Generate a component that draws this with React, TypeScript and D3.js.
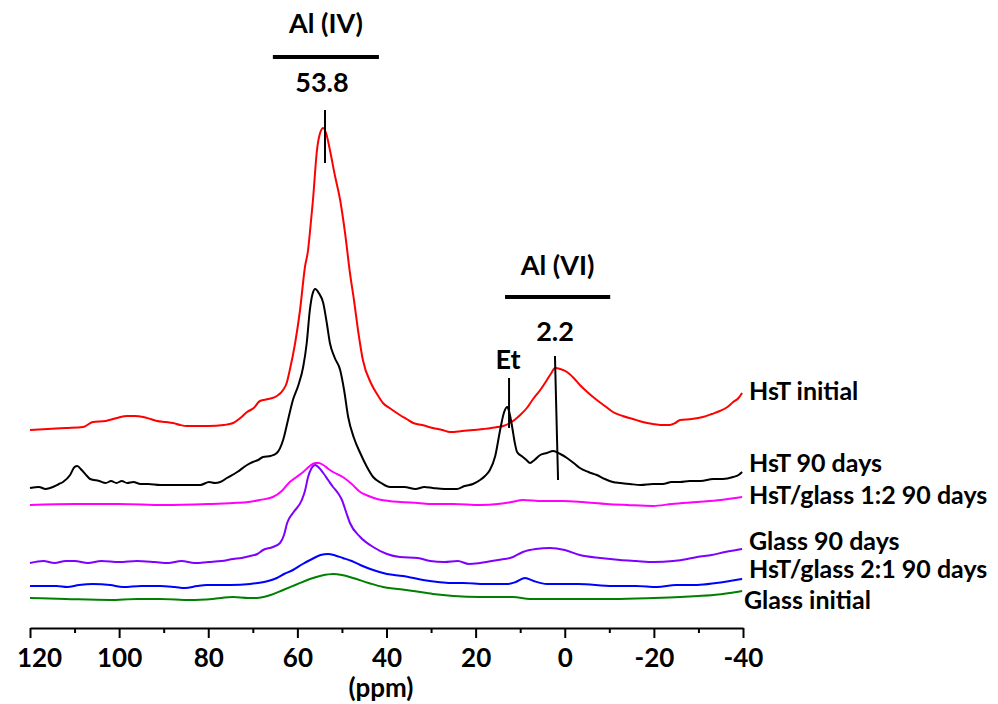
import React, { useEffect, useRef } from "react";
import * as d3 from "d3";

// ---- data (ppm, relative intensity) ----
const hstInitial: [number, number][] = [
  [120, -0.4], [116, -0.2], [112, 0], [108.1, 0.2], [105.9, 1.2], [103, 1.4], [100.5, 2.0], [98.2, 2.4], [96.5, 2.4], [94.6, 2.2], [93, 1.8], [91.5, 1.4],
  [89.5, 1.2], [87.9, 1.0], [86.3, 0.6], [84.8, 0.4], [80, 0.4], [76.5, 0.6], [74.4, 1.0], [72.8, 2.0], [71.3, 3.2], [69.8, 4.0], [68.4, 5.4],
  [66.5, 5.8], [64.6, 6.4], [63.2, 7.6], [62.4, 9.0], [61.7, 11.6], [60.5, 17.0], [59.4, 23.6], [58.3, 32.2], [57.6, 35.6], [57.2, 39.0],
  [56.5, 45.6], [55.6, 55.6], [54.9, 59.0], [54.2, 60.0], [53.5, 58.8], [52.7, 55.6], [51.6, 50.6], [50.4, 45.6], [49.3, 39.0],
  [48.2, 31.0], [47.3, 25.6], [46.3, 19.0], [45.3, 13.6], [43.5, 9.0], [42, 6.6], [40.8, 5.0], [39, 3.8], [37.0, 2.6], [35.5, 1.8],
  [34.0, 1.0], [32, 0.6], [29.6, 0], [27.5, -0.4], [25.7, -0.8], [23, -0.6], [20.5, -0.4], [18.3, -0.2], [16.5, 0], [15.2, 0.2],
  [13.8, 0.4], [12.3, 1.0], [11, 1.8], [10.0, 2.6], [8.5, 4.0], [7.1, 5.8], [5.5, 7.6], [4.0, 9.6], [3.0, 11.0], [2.2, 12.0],
  [1.0, 11.8], [-0.5, 11.2], [-2, 10.0], [-3.4, 8.6], [-5.3, 7.0], [-7.2, 5.6], [-9, 4.4], [-10.8, 3.2], [-13, 2.4], [-15.3, 1.8],
  [-17.5, 1.2], [-19.8, 0.8], [-21.5, 0.6], [-23.6, 0.6], [-24.8, 1.0], [-25.9, 1.6], [-28.5, 1.8], [-31.0, 2.2], [-33, 2.8],
  [-34.8, 3.4], [-36.5, 4.2], [-37.8, 5.2], [-39, 6.0], [-39.8, 7.0],
];
const hst90: [number, number][] = [
  [120, 0], [118, 0.2], [116.5, -0.2], [115.5, 0], [113.5, 0.8], [112.6, 1.2], [111, 2.6], [110, 4.2], [109.4, 4.4], [108.4, 3.6],
  [107.2, 2.4], [106.5, 1.8], [104.5, 1.4], [103, 1.0], [101.8, 1.4], [100.6, 1.0], [99.4, 1.4], [98.2, 1.0], [96.8, 1.2], [95.2, 0.8],
  [93.5, 0.8], [90.8, 0.6], [86, 0.6], [81.8, 0.6], [79.8, 1.2], [78.5, 1.0], [77.3, 1.2], [75.8, 2.0], [73.5, 3.2], [71.3, 4.6],
  [70.0, 5.2], [68.8, 5.6], [67.7, 6.2], [66, 6.4], [64.6, 7.0], [63.2, 9.6], [62.1, 13.6], [61.0, 17.6], [59.8, 20.5], [58.7, 24.2],
  [57.9, 29.0], [57.2, 35.6], [56.6, 38.8], [56.0, 39.8], [55.2, 39.0], [54.2, 37.0], [53.4, 33.0], [52.7, 29.0], [51.6, 26.0],
  [50.4, 23.6], [49.5, 19.5], [48.6, 14.2], [47.3, 10.0], [45.9, 7.0], [44.5, 4.4], [43.0, 2.2], [41.2, 1.0], [39.2, 0.2], [36, 0.2],
  [33.5, -0.2], [31.5, 0.2], [29.6, 0], [27, -0.2], [24.2, -0.2], [22.5, 0.4], [20.6, 0.8], [19.0, 1.6], [17.9, 2.4], [16.8, 3.6],
  [15.6, 6.4], [14.5, 11.6], [13.6, 15.2], [12.9, 16.2], [12.4, 15.0], [11.8, 12.2], [11.2, 9.0], [10.7, 7.2], [9.4, 6.2], [8.6, 5.6],
  [7.8, 5.0], [6.8, 5.6], [5.5, 6.6], [4.0, 7.0], [2.6, 7.4], [1.0, 6.8], [-0.5, 6.0], [-2, 5.0], [-3.4, 4.0], [-5.3, 3.2], [-7.2, 2.6],
  [-9, 1.8], [-10.8, 1.2], [-12.5, 1.0], [-14.6, 0.8], [-17, 0.6], [-19.8, 0.8], [-22, 0.8], [-24, 1.2], [-25.9, 1.2], [-28, 1.4],
  [-30.5, 1.4], [-33.3, 1.8], [-35.5, 1.8], [-37.8, 2.2], [-39.0, 2.6], [-39.8, 3.2],
];
const hstGlass12: [number, number][] = [
  [120, 0], [110, 0.2], [100, 0.2], [90, 0], [80, 0.2], [74.4, 0.4], [71, 0.6], [68.4, 1.0], [65.5, 1.6], [63.5, 2.8], [61.7, 4.6],
  [60.2, 5.6], [58.7, 6.6], [57.2, 7.8], [56.0, 8.4], [55.2, 8.4], [54.2, 8.0], [53, 7.2], [52.0, 6.6], [49.8, 5.6], [47.8, 4.2],
  [45.9, 2.6], [44, 1.8], [42.1, 1.2], [39.5, 0.8], [37.0, 0.6], [33, 0.4], [29.6, 0.2], [25, 0.2], [19.0, 0], [15, 0.2], [12, 0.6],
  [9.4, 1.0], [5, 0.8], [0.4, 0.8], [-4, 0.6], [-9.4, 0.2], [-14, 0], [-19.8, -0.2], [-24, 0.2], [-29.7, 0.6], [-35, 1.0], [-39.8, 1.6],
];
const glass90: [number, number][] = [
  [120, -0.2], [117, 0.2], [114.5, -0.2], [112, 0.2], [110, 0.2], [107, -0.2], [104, 0.2], [100, 0], [96, 0.2], [92, 0], [89, -0.2],
  [86, 0.2], [83, -0.2], [80, 0], [77, 0.2], [74.4, 0.6], [72.5, 0.8], [70.6, 1.2], [69, 1.6], [67.7, 2.4], [65.5, 3.0], [63.9, 3.8],
  [63, 5.4], [62.3, 7.8], [61.0, 9.8], [59.0, 12.4], [58.3, 14.2], [57.6, 17.0], [56.8, 18.8], [56.0, 19.4], [55.2, 18.9], [54.2, 17.8],
  [53.1, 16.4], [52.0, 15.0], [50.9, 13.8], [50.0, 12.4], [49.0, 9.8], [48.2, 7.8], [45.9, 5.0], [43.0, 3.0], [39.9, 1.6], [37.0, 1.0],
  [33, 0.8], [30.2, 0.2], [27, 0], [24, 0.2], [21.5, -0.4], [19.0, -0.2], [15, 0.4], [11.6, 1.0], [9.4, 2.0], [6.5, 2.6], [3.3, 2.8],
  [0, 2.4], [-3.4, 1.4], [-8, 0.8], [-12.4, 0.4], [-16, 0.2], [-20, 0], [-24.3, 0.2], [-27.5, 0.6], [-29.7, 1.0], [-33, 1.4], [-36, 2.0],
  [-38.5, 2.4], [-39.8, 2.6],
];
const hstGlass21: [number, number][] = [
  [120, 0], [114, 0], [111.7, -0.2], [109, 0.2], [105.9, 0.4], [102, 0.2], [99.1, -0.2], [95, 0], [90.8, 0], [87.5, -0.2], [85.2, -0.4],
  [82.5, 0], [80.3, 0.2], [75, 0.2], [70.6, 0.4], [67.5, 0.8], [64.6, 1.6], [63, 2.4], [61.0, 3.2], [58.8, 4.4], [56.7, 5.4],
  [54.8, 6.2], [53.1, 6.4], [51.5, 6.1], [49.8, 5.6], [47.8, 5.0], [45.9, 4.2], [43, 3.2], [39.9, 2.4], [36.3, 2.0], [34, 1.6],
  [31.8, 1.2], [28.5, 0.8], [25.7, 0.6], [22.8, 0.6], [18, 0.4], [12.9, 0.4], [11, 0.8], [8.9, 1.6], [7, 1.0], [4.0, 0.4], [-3, 0.4],
  [-10.8, 0], [-16, 0], [-20.7, -0.2], [-25, 0.2], [-29.7, 0.2], [-34, 0.6], [-37, 1.0], [-39.8, 1.4],
];
const glassInitial: [number, number][] = [
  [120, 0.2], [112, 0], [102, -0.2], [96, 0], [90.8, 0], [84, -0.2], [79, 0], [74.4, 0.4], [71, 0.2], [69.1, 0.2], [66, 0.8],
  [63.2, 1.8], [60.2, 2.9], [57.2, 4.0], [54.5, 4.7], [52.0, 5.0], [50, 4.8], [47.5, 4.2], [44, 3.2], [40.8, 2.4], [37.5, 2.0],
  [34.0, 1.6], [29.6, 1.0], [25, 0.6], [19.0, 0.4], [11.6, 0.4], [7.8, 0], [0, 0], [-10.8, 0], [-20, 0.2], [-25.9, 0.4], [-30, 0.6],
  [-33.3, 0.8], [-37, 1.2], [-39.8, 1.6],
];

const seriesNames = ["HsT initial", "HsT 90 days", "HsT/glass 1:2 90 days", "Glass 90 days", "HsT/glass 2:1 90 days", "Glass initial"];
const seriesData = [hstInitial, hst90, hstGlass12, glass90, hstGlass21, glassInitial];
const seriesOffsets = [40, 28, 24.6, 13.2, 8.4, 5.8];
const seriesColors = ["#ff0000", "#000000", "#ff00ff", "#7f00ff", "#0000ff", "#008000"];
const labelPos: [number, number][] = [[749, 400], [749, 472], [749, 504], [749, 550], [749, 578], [744, 609]];

const xTicksMajor = [120, 100, 80, 60, 40, 20, 0, -20, -40];
const xTicksMinor = [110, 90, 70, 50, 30, 10, -10, -30];

// annotations (ppm)
const alIVRange: [number, number] = [65.5, 41.7];
const alVIRange: [number, number] = [13.4, -10.2];
const peakIV = 53.8;
const peakVI: [number, number] = [2.2, 1.5];
const peakEt = 12.5;

const W = 998;
const H = 704;
const FONT = "Lato, 'Open Sans', sans-serif";

export default function App() {
  const axisRef = useRef<SVGGElement>(null);
  const x = d3.scaleLinear().domain([120, -40]).range([30, 743]);
  const y = d3.scaleLinear().domain([0, 100]).range([628, 128]);

  useEffect(() => {
    if (!axisRef.current) return;
    const g = d3.select(axisRef.current);
    g.selectAll("*").remove();
    const major = d3.axisBottom(x).tickValues(xTicksMajor).tickSize(10).tickSizeOuter(0).tickFormat((d: any) => String(d));
    const minor = d3.axisBottom(x).tickValues(xTicksMinor).tickSize(5).tickSizeOuter(0).tickFormat(() => "");
    const gMinor = g.append("g").call(minor);
    gMinor.select(".domain").remove();
    const gMaj = g.append("g").call(major);
    g.selectAll("line").attr("stroke", "#000").attr("stroke-width", 2);
    gMaj.select(".domain").attr("stroke", "#000").attr("stroke-width", 2);
    gMaj.selectAll("text")
      .attr("y", 39).attr("dy", 0)
      .attr("font-family", FONT).attr("font-weight", "bold").attr("font-size", 26).attr("fill", "#000")
      .attr("dx", (d: any) => (d === 120 ? 9 : 0));
  }, []);

  const line = (data: [number, number][], off: number) =>
    d3.line<[number, number]>()
      .x((d) => x(d[0]))
      .y((d) => y(d[1] + off))
      .curve(d3.curveMonotoneX)(data) || "";

  const textStyle = { fontFamily: FONT, fontWeight: 700 as const, fill: "#000" };

  return (
    <svg width={W} height={H} style={{ position: "absolute", left: 0, top: 0, background: "#fff" }}>
      <rect width={W} height={H} fill="#fff" />
      {seriesData.map((d, i) => (
        <path key={i} d={line(d, seriesOffsets[i])} fill="none" stroke={seriesColors[i]} strokeWidth={2} strokeLinejoin="round" />
      ))}
      <g ref={axisRef} transform="translate(0,628)" />
      <text x={381} y={697} textAnchor="middle" fontSize={26} style={textStyle}>(ppm)</text>

      {/* Al (IV) annotation */}
      <text x={x((alIVRange[0] + alIVRange[1]) / 2)} y={33} textAnchor="middle" fontSize={27} style={textStyle}>Al (IV)</text>
      <line x1={x(alIVRange[0])} x2={x(alIVRange[1])} y1={57} y2={57} stroke="#000" strokeWidth={4} />
      <text x={322} y={92} textAnchor="middle" fontSize={27} style={textStyle}>53.8</text>
      <line x1={x(peakIV)} x2={x(peakIV)} y1={110} y2={163} stroke="#000" strokeWidth={2} />

      {/* Al (VI) annotation */}
      <text x={x((alVIRange[0] + alVIRange[1]) / 2)} y={275} textAnchor="middle" fontSize={27} style={textStyle}>Al (VI)</text>
      <line x1={x(alVIRange[0])} x2={x(alVIRange[1])} y1={297} y2={297} stroke="#000" strokeWidth={4} />
      <text x={555} y={341} textAnchor="middle" fontSize={27} style={textStyle}>2.2</text>
      <line x1={x(peakVI[0])} x2={x(peakVI[1])} y1={356} y2={480} stroke="#000" strokeWidth={2} />
      <text x={508} y={369} textAnchor="middle" fontSize={27} style={textStyle}>Et</text>
      <line x1={x(peakEt)} x2={x(peakEt)} y1={378} y2={428} stroke="#000" strokeWidth={2} />

      {seriesNames.map((n, i) => (
        <text key={n} x={labelPos[i][0]} y={labelPos[i][1]} fontSize={25} style={textStyle}>{n}</text>
      ))}
    </svg>
  );
}
